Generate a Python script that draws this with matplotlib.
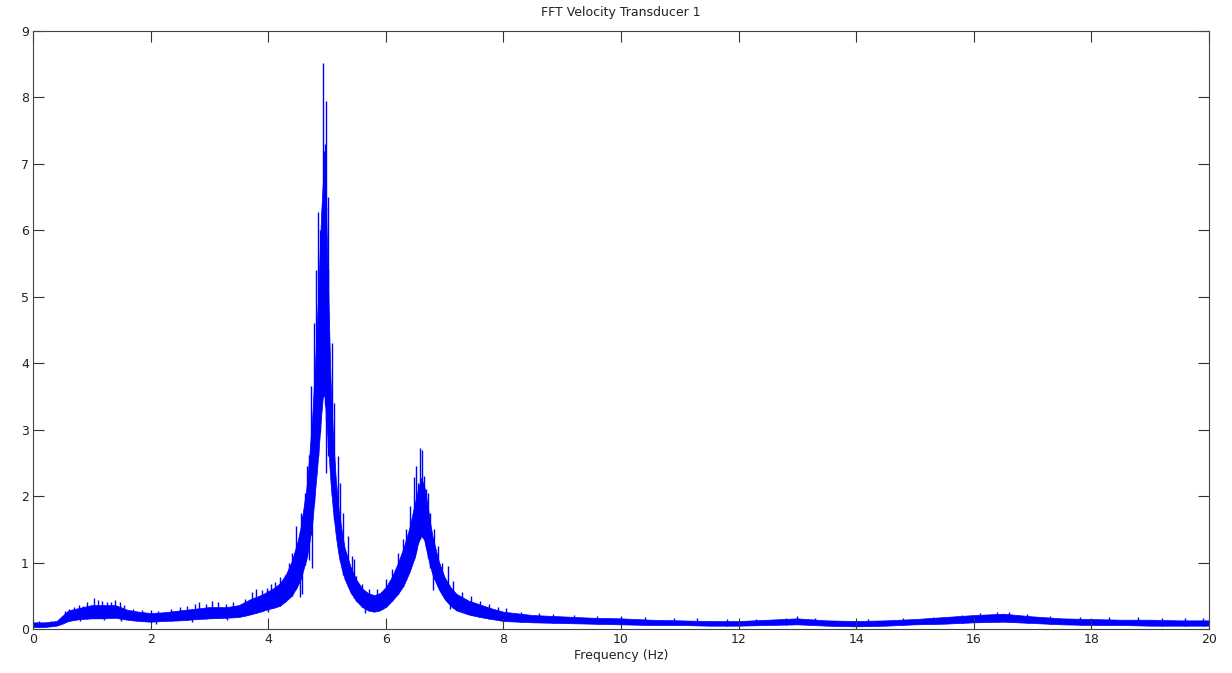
import matplotlib
matplotlib.use("Agg")
import matplotlib.pyplot as plt
import numpy as np

# Envelope of the noisy FFT magnitude band
freq = [0.00, 0.20, 0.40, 0.50, 0.60, 0.80, 1.00, 1.20, 1.40, 1.60, 1.80, 2.00,
        2.20, 2.50, 2.80, 3.00, 3.30, 3.50, 3.70, 3.90, 4.00, 4.10, 4.20, 4.30,
        4.40, 4.50, 4.55, 4.60, 4.65, 4.70, 4.75, 4.80, 4.85, 4.90, 4.93, 4.96,
        5.00, 5.03, 5.06, 5.10, 5.15, 5.20, 5.25, 5.30, 5.40, 5.50, 5.60, 5.70,
        5.80, 5.90, 6.00, 6.10, 6.20, 6.30, 6.40, 6.50, 6.55, 6.60, 6.65, 6.70,
        6.75, 6.80, 6.90, 7.00, 7.10, 7.20, 7.40, 7.60, 7.80, 8.00, 8.50, 9.00,
        9.50, 10.00, 10.50, 11.00, 11.50, 12.00, 12.50, 13.00, 13.50, 14.00,
        14.50, 15.00, 15.50, 16.00, 16.50, 17.00, 17.50, 18.00, 18.50, 19.00,
        19.50, 20.00]
lower = [0.03, 0.03, 0.05, 0.08, 0.12, 0.15, 0.16, 0.16, 0.17, 0.14, 0.12, 0.11,
         0.12, 0.13, 0.15, 0.16, 0.17, 0.18, 0.22, 0.27, 0.30, 0.32, 0.35, 0.42,
         0.50, 0.65, 0.75, 0.90, 1.05, 1.30, 1.60, 2.10, 2.60, 3.20, 3.50, 3.50,
         3.00, 2.60, 2.20, 1.80, 1.40, 1.10, 0.90, 0.75, 0.55, 0.42, 0.33, 0.28,
         0.26, 0.28, 0.33, 0.42, 0.52, 0.65, 0.85, 1.10, 1.30, 1.40, 1.35, 1.15,
         0.95, 0.80, 0.60, 0.45, 0.35, 0.28, 0.22, 0.18, 0.15, 0.12, 0.10, 0.09,
         0.08, 0.07, 0.06, 0.06, 0.05, 0.05, 0.06, 0.07, 0.05, 0.04,
         0.05, 0.07, 0.08, 0.10, 0.11, 0.09, 0.07, 0.06, 0.06, 0.05,
         0.05, 0.05]
upper = [0.10, 0.10, 0.12, 0.20, 0.28, 0.32, 0.36, 0.36, 0.36, 0.29, 0.26, 0.24,
         0.25, 0.28, 0.31, 0.33, 0.33, 0.36, 0.45, 0.52, 0.57, 0.62, 0.69, 0.82,
         1.02, 1.32, 1.52, 1.82, 2.12, 2.62, 3.22, 4.05, 5.05, 6.25, 6.75, 6.95,
         5.75, 4.75, 3.75, 2.95, 2.25, 1.78, 1.48, 1.22, 0.94, 0.74, 0.61, 0.54,
         0.51, 0.54, 0.63, 0.78, 0.98, 1.22, 1.52, 1.92, 2.12, 2.27, 2.17, 1.92,
         1.62, 1.37, 1.02, 0.78, 0.63, 0.53, 0.43, 0.37, 0.31, 0.26, 0.21, 0.19,
         0.17, 0.16, 0.14, 0.13, 0.12, 0.12, 0.14, 0.16, 0.13, 0.12,
         0.13, 0.15, 0.18, 0.21, 0.23, 0.19, 0.16, 0.15, 0.14, 0.14,
         0.13, 0.13]

# Individual upward spikes (frequency, peak value)
spike_freq = [0.10, 0.30, 0.55, 0.62, 0.70, 0.78, 0.85, 0.92, 1.03, 1.10,
              1.18, 1.25, 1.32, 1.40, 1.48, 1.55, 1.70, 1.85, 2.00, 2.12,
              2.35, 2.50, 2.62, 2.75, 2.82, 2.95, 3.05, 3.15, 3.28, 3.40,
              3.60, 3.72, 3.80, 3.90, 3.98, 4.05, 4.12, 4.20, 4.28, 4.35,
              4.40, 4.47, 4.55, 4.62, 4.66, 4.72, 4.78, 4.82, 4.85, 4.88,
              4.93, 4.95, 4.97, 4.99, 5.02, 5.08, 5.12, 5.18, 5.22, 5.28,
              5.35, 5.42, 5.46, 5.50, 5.60, 5.72, 5.85, 6.00, 6.10, 6.20,
              6.30, 6.35, 6.42, 6.48, 6.52, 6.55, 6.58, 6.62, 6.65, 6.68,
              6.72, 6.76, 6.82, 6.88, 6.95, 7.05, 7.15, 7.30, 7.45, 7.60,
              7.75, 7.90, 8.05, 8.30, 8.60, 8.85, 9.20, 9.60, 10.0, 10.4,
              10.9, 11.3, 11.8, 12.3, 12.8, 13.0, 13.3, 14.2, 14.8, 15.3,
              15.8, 16.1, 16.4, 16.6, 16.9, 17.3, 17.8, 18.3, 18.8, 19.2,
              19.6, 19.9]
spike_val = [0.12, 0.12, 0.27, 0.30, 0.33, 0.36, 0.35, 0.40, 0.47, 0.43,
             0.42, 0.40, 0.41, 0.44, 0.40, 0.36, 0.30, 0.29, 0.28, 0.27,
             0.30, 0.33, 0.35, 0.38, 0.40, 0.38, 0.42, 0.40, 0.38, 0.40,
             0.45, 0.55, 0.60, 0.58, 0.62, 0.68, 0.70, 0.78, 0.82, 1.00,
             1.15, 1.55, 1.75, 2.05, 2.45, 3.65, 4.60, 5.40, 6.27, 6.00,
             8.52, 7.20, 7.30, 7.95, 6.50, 4.30, 3.40, 2.60, 2.20, 1.75,
             1.40, 1.10, 1.05, 0.80, 0.68, 0.60, 0.60, 0.75, 0.90, 1.15,
             1.35, 1.50, 1.85, 2.29, 2.45, 2.20, 2.72, 2.70, 2.30, 2.10,
             2.05, 1.75, 1.50, 1.25, 1.00, 0.95, 0.72, 0.55, 0.50, 0.42,
             0.38, 0.33, 0.32, 0.25, 0.24, 0.22, 0.21, 0.20, 0.19, 0.18,
             0.16, 0.16, 0.15, 0.15, 0.17, 0.19, 0.17, 0.15, 0.16, 0.18,
             0.21, 0.24, 0.26, 0.26, 0.23, 0.20, 0.18, 0.18, 0.18, 0.17,
             0.17, 0.16]

# Downward dips (frequency, minimum value)
dip_freq = [0.80, 1.20, 1.50, 2.10, 2.70, 3.30, 4.00, 4.54, 4.58, 4.70,
            4.74, 4.98, 5.01, 5.65, 6.80, 7.10]
dip_val = [0.12, 0.13, 0.12, 0.08, 0.10, 0.13, 0.25, 0.48, 0.52, 1.04,
           0.92, 2.35, 2.60, 0.24, 0.59, 0.30]

x_ticks = [0, 2, 4, 6, 8, 10, 12, 14, 16, 18, 20]
y_ticks = [0, 1, 2, 3, 4, 5, 6, 7, 8, 9]
title = "FFT Velocity Transducer 1"
xlabel = "Frequency (Hz)"

plt.rcParams['font.family'] = ['DejaVu Sans']
fig = plt.figure(figsize=(12.32, 6.73), dpi=100)
ax = fig.add_axes([33 / 1232, 1 - 629 / 673, (1209 - 33) / 1232, (629 - 31) / 673])

blue = (0, 0, 1)
ax.fill_between(freq, lower, upper, color=blue, linewidth=0.5)
spike_base = np.interp(spike_freq, freq, lower)
ax.vlines(spike_freq, spike_base, spike_val, color=blue, linewidth=1.0)
dip_top = np.interp(dip_freq, freq, upper)
ax.vlines(dip_freq, dip_val, dip_top, color=blue, linewidth=1.0)

ax.set_xlim(0, 20)
ax.set_ylim(0, 9)
ax.set_xticks(x_ticks)
ax.set_yticks(y_ticks)
ax.tick_params(direction='in', length=8, width=0.8, color='#333333',
               top=True, right=True, labelsize=9, pad=3, labelcolor='#222222')
for s in ax.spines.values():
    s.set_color('#444444')
    s.set_linewidth(0.8)
ax.set_title(title, fontsize=9, pad=11, color='#222222')
ax.set_xlabel(xlabel, fontsize=9, labelpad=2, color='#222222')

fig.savefig("out.png", dpi=100)
